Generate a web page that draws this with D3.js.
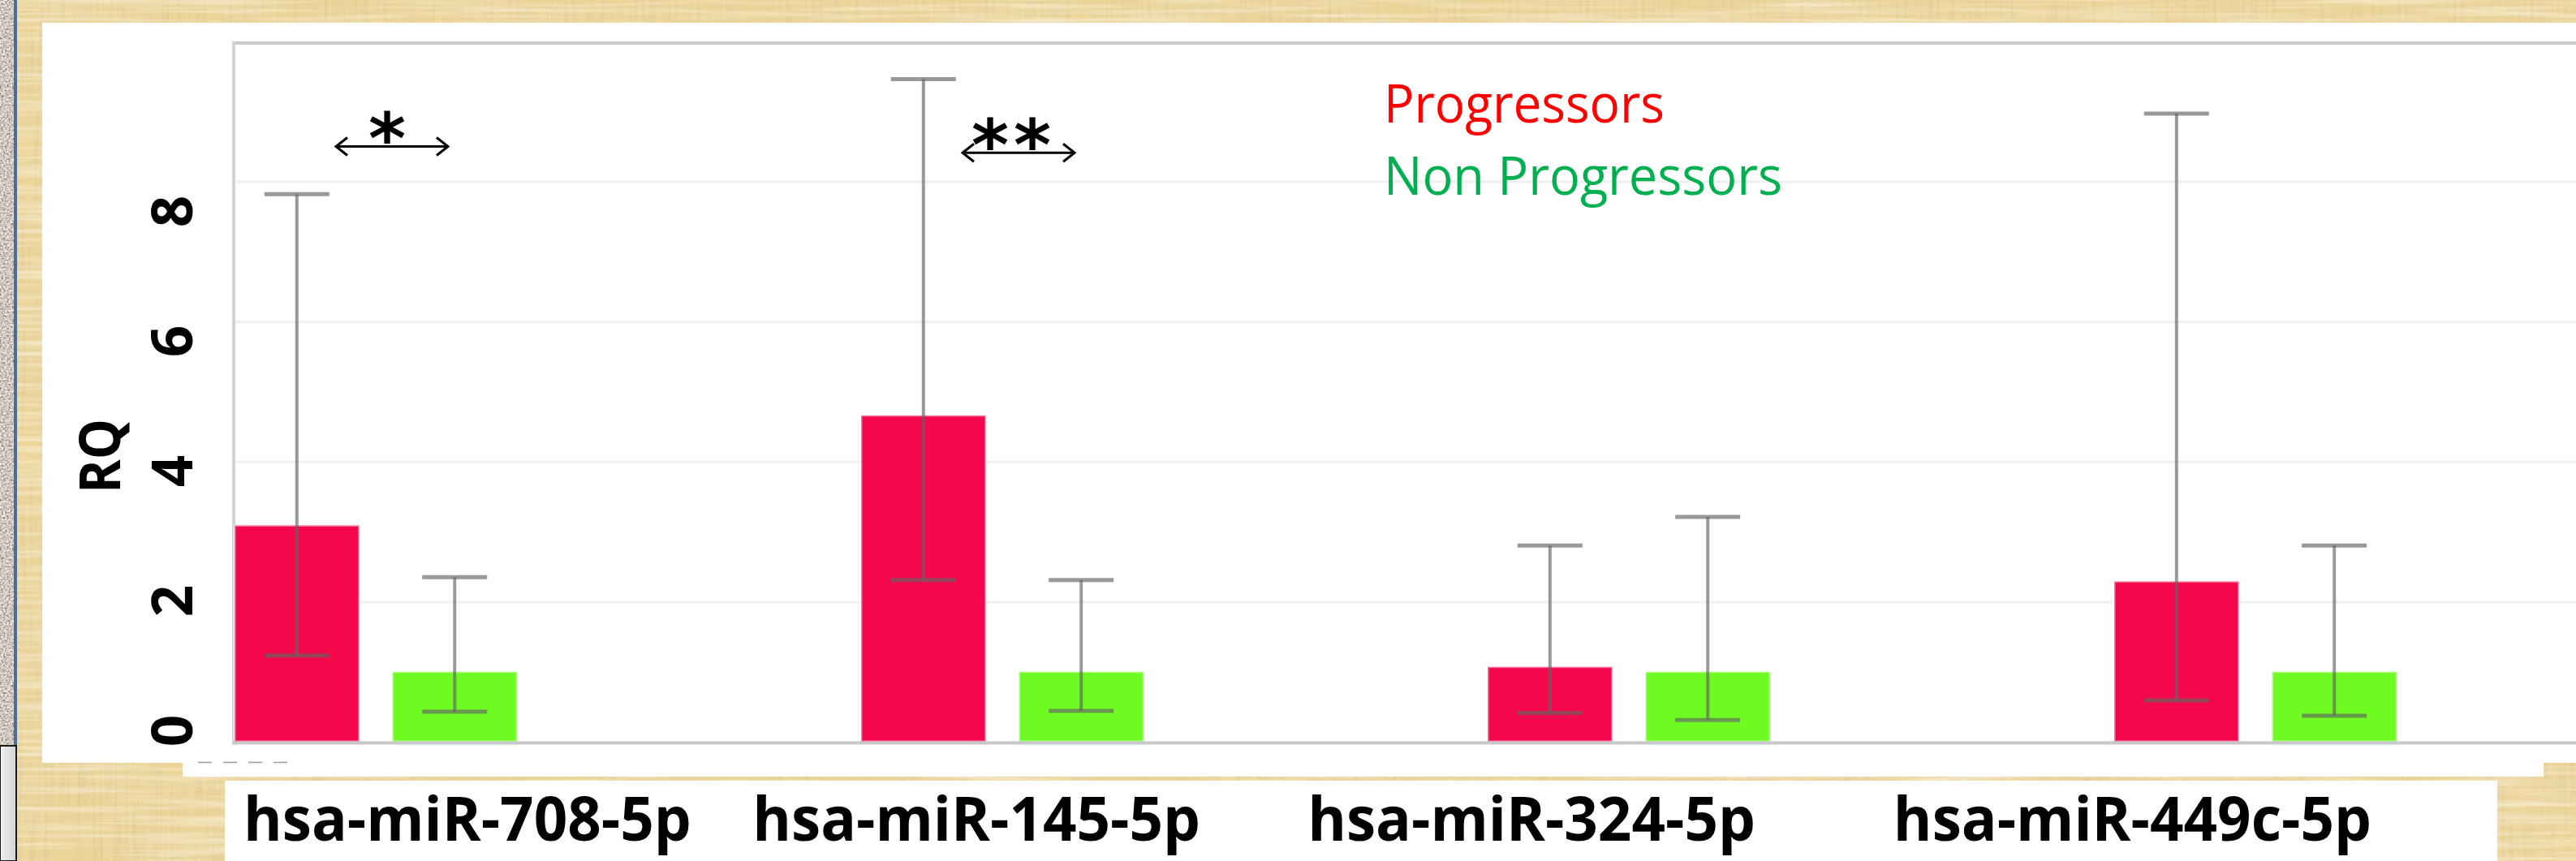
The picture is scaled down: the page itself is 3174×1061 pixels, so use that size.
<!DOCTYPE html>
<html>
<head>
<meta charset="utf-8">
<script src="https://cdn.jsdelivr.net/npm/d3@7"></script>
<style>
  html, body { margin: 0; padding: 0; background: #ecd69c; overflow: hidden; }
  svg { display: block; }
</style>
</head>
<body>
<svg id="chart" width="3174" height="1061">
  <defs>
    <filter id="paper" filterUnits="userSpaceOnUse" x="0" y="0" width="3174" height="1061">
      <feTurbulence type="fractalNoise" baseFrequency="0.22 0.008" numOctaves="3" seed="3" result="v"/>
      <feColorMatrix in="v" type="matrix" values="0 0 0 0 0.70  0 0 0 0 0.56  0 0 0 0 0.28  1.3 0 0 0 -0.52" result="vc"/>
      <feTurbulence type="fractalNoise" baseFrequency="0.006 0.18" numOctaves="2" seed="8" result="h"/>
      <feColorMatrix in="h" type="matrix" values="0 0 0 0 1  0 0 0 0 0.96  0 0 0 0 0.84  1.2 0 0 0 -0.5" result="hc"/>
      <feMerge><feMergeNode in="vc"/><feMergeNode in="hc"/></feMerge>
    </filter>
    <filter id="stone" filterUnits="userSpaceOnUse" x="0" y="0" width="18" height="920">
      <feTurbulence type="fractalNoise" baseFrequency="0.45" numOctaves="3" seed="2"/>
      <feColorMatrix type="matrix" values="1.3 0 0 0 -0.03  1.25 0 0 0 -0.05  1.2 0 0 0 -0.08  0 0 0 0 1"/>
    </filter>
    <linearGradient id="grayBox" x1="0" y1="0" x2="1" y2="0">
      <stop offset="0" stop-color="#f0f0f0"/>
      <stop offset="1" stop-color="#d4d4d4"/>
    </linearGradient>
  </defs>
</svg>
<script>
// values (RQ)
var categories = ["hsa-miR-708-5p", "hsa-miR-145-5p", "hsa-miR-324-5p", "hsa-miR-449c-5p"];
var seriesNames = ["Progressors", "Non Progressors"];
var progressors = [3.09, 4.66, 1.07, 2.29];
var progressorsLow = [1.23, 2.31, 0.41, 0.59];
var progressorsHigh = [7.82, 9.46, 2.80, 8.97];
var nonProgressors = [1.0, 1.0, 1.0, 1.0];
var nonProgressorsLow = [0.43, 0.44, 0.31, 0.37];
var nonProgressorsHigh = [2.35, 2.31, 3.21, 2.80];
var yTicks = [0, 2, 4, 6, 8];
var gridTicks = [2, 4, 6, 8];
var sigCategories = ["hsa-miR-708-5p", "hsa-miR-145-5p"];
var sigMarks = ["*", "**"];
var sigLevels = [8.5, 8.41];

var colors = {"Progressors": "#f5074b", "Non Progressors": "#6dfb22"};
var legendColors = {"Progressors": "#ff0000", "Non Progressors": "#00b050"};

var W = 3174, H = 1061;
var svg = d3.select("#chart");

// ---- backdrop (papyrus slide) ----
svg.append("rect").attr("width", W).attr("height", H).attr("fill", "#ecd69c");
svg.append("rect").attr("width", W).attr("height", H).attr("filter", "url(#paper)");
svg.append("rect").attr("x", 0).attr("y", 0).attr("width", 17).attr("height", 919).attr("filter", "url(#stone)");
svg.append("rect").attr("x", 17).attr("y", 0).attr("width", 4).attr("height", 919).attr("fill", "#4a6c9e");
svg.append("rect").attr("x", 0).attr("y", 919).attr("width", 20).attr("height", H - 919)
    .attr("fill", "url(#grayBox)").attr("stroke", "#1a1a1a").attr("stroke-width", 2);

// white panels
svg.append("rect").attr("x", 52).attr("y", 28).attr("width", W - 52).attr("height", 912).attr("fill", "#fff");
svg.append("rect").attr("x", 225).attr("y", 900).attr("width", 2909).attr("height", 57).attr("fill", "#fff");
svg.append("rect").attr("x", 277).attr("y", 962).attr("width", 2800).attr("height", H - 962).attr("fill", "#fff");

// ---- scales ----
var plotLeft = 289, plotTop = 51, plotBottom = 914;
var step = 772;

var x0 = d3.scaleBand()
    .domain(categories)
    .range([plotLeft, plotLeft + step * categories.length])
    .paddingInner(0).paddingOuter(0);

var x1 = d3.scaleBand()
    .domain(seriesNames)
    .range([0, 348])
    .paddingInner(0.21).paddingOuter(0);

var y = d3.scaleLinear().domain([0, 10]).range([plotBottom, plotTop]);
// the pasted tick labels sit on their own (slightly tighter) scale
var yLab = d3.scaleLinear().domain([0, 8]).range([900, 260]);

var g = svg.append("g");

// gridlines
g.append("g")
    .attr("transform", "translate(" + plotLeft + ",0)")
    .call(d3.axisRight(y).tickValues(gridTicks).tickSize(W - plotLeft).tickFormat(""))
    .call(function (a) {
        a.select(".domain").remove();
        a.selectAll("line").attr("stroke", "#efefef").attr("stroke-width", 3);
    });

// plot frame
g.append("line").attr("x1", plotLeft - 2).attr("x2", W).attr("y1", y(10) + 2).attr("y2", y(10) + 2)
    .attr("stroke", "#cacaca").attr("stroke-width", 4);
g.append("line").attr("x1", plotLeft - 1).attr("x2", plotLeft - 1).attr("y1", y(10)).attr("y2", plotBottom)
    .attr("stroke", "#d4d4d4").attr("stroke-width", 4);

// ---- bars ----
var rows = categories.map(function (c, i) {
    return [
        {cat: c, series: "Progressors", v: progressors[i], lo: progressorsLow[i], hi: progressorsHigh[i]},
        {cat: c, series: "Non Progressors", v: nonProgressors[i], lo: nonProgressorsLow[i], hi: nonProgressorsHigh[i]}
    ];
});
var flat = d3.merge(rows);

function cx(d) {
    return x0(d.cat) + x1(d.series) + x1.bandwidth() / 2;
}

g.append("g").selectAll("rect")
    .data(flat)
    .enter().append("rect")
    .attr("x", function (d) { return x0(d.cat) + x1(d.series); })
    .attr("y", function (d) { return y(d.v); })
    .attr("width", x1.bandwidth())
    .attr("height", function (d) { return y(0) - y(d.v); })
    .attr("fill", function (d) { return colors[d.series]; })
    .attr("stroke", "rgba(255,255,255,0.45)")
    .attr("stroke-width", 3);

// axis line
g.append("line").attr("x1", plotLeft - 3).attr("x2", W).attr("y1", plotBottom + 1.5).attr("y2", plotBottom + 1.5)
    .attr("stroke", "#c8c8c8").attr("stroke-width", 4);

// error bars
var capW = 80;
var eb = g.append("g").attr("stroke", "#646464").attr("stroke-opacity", 0.66);
eb.selectAll("line.stem")
    .data(flat)
    .enter().append("line")
    .attr("class", "stem")
    .attr("x1", cx).attr("x2", cx)
    .attr("y1", function (d) { return y(d.hi); })
    .attr("y2", function (d) { return y(d.lo); })
    .attr("stroke-width", 4);
eb.selectAll("line.capHi")
    .data(flat)
    .enter().append("line")
    .attr("class", "capHi")
    .attr("x1", function (d) { return cx(d) - capW / 2; })
    .attr("x2", function (d) { return cx(d) + capW / 2; })
    .attr("y1", function (d) { return y(d.hi); })
    .attr("y2", function (d) { return y(d.hi); })
    .attr("stroke-width", 5);
eb.selectAll("line.capLo")
    .data(flat)
    .enter().append("line")
    .attr("class", "capLo")
    .attr("x1", function (d) { return cx(d) - capW / 2; })
    .attr("x2", function (d) { return cx(d) + capW / 2; })
    .attr("y1", function (d) { return y(d.lo); })
    .attr("y2", function (d) { return y(d.lo); })
    .attr("stroke-width", 5);

// ---- significance arrows ----
var half = 69, head = 14;
sigCategories.forEach(function (c, i) {
    var mid = x0(c) + (x1("Progressors") + x1("Non Progressors") + x1.bandwidth()) / 2 + 20;
    var yy = y(sigLevels[i]);
    var a = g.append("g").attr("stroke", "#000").attr("stroke-width", 3).attr("fill", "none");
    a.append("line").attr("x1", mid - half).attr("x2", mid + half).attr("y1", yy).attr("y2", yy);
    a.append("path").attr("d", "M" + (mid - half + head) + "," + (yy - 11) + "L" + (mid - half) + "," + yy + "L" + (mid - half + head) + "," + (yy + 11));
    a.append("path").attr("d", "M" + (mid + half - head) + "," + (yy - 11) + "L" + (mid + half) + "," + yy + "L" + (mid + half - head) + "," + (yy + 11));
    g.append("text")
        .attr("x", mid - 6)
        .attr("y", yy + 21)
        .attr("text-anchor", "middle")
        .attr("font-family", "DejaVu Sans")
        .attr("font-weight", "bold")
        .attr("font-size", 88)
        .attr("letter-spacing", i ? 6 : 0)
        .text(sigMarks[i]);
});

// ---- legend ----
var legend = svg.append("g").attr("transform", "translate(1705,151)");
var legendWidths = [346, 491];
seriesNames.forEach(function (s, i) {
    legend.append("text")
        .attr("y", i * 89)
        .attr("font-family", "Open Sans")
        .attr("font-size", 66)
        .attr("fill", legendColors[s])
        .attr("textLength", legendWidths[i])
        .attr("lengthAdjust", "spacingAndGlyphs")
        .text(s);
});

// ---- y tick labels (rotated) ----
var yAxis = svg.append("g")
    .attr("transform", "translate(237,0)")
    .call(d3.axisLeft(yLab).tickValues(yTicks).tickSize(0).tickFormat(d3.format("d")));
yAxis.select(".domain").remove();
yAxis.attr("font-family", "Open Sans").attr("font-size", 69).attr("font-weight", "bold");
yAxis.selectAll("text")
    .attr("x", 0).attr("y", 0).attr("dy", null)
    .attr("transform", "rotate(-90)")
    .attr("text-anchor", "middle")
    .attr("fill", "#000");

svg.append("text")
    .attr("transform", "translate(148,562) rotate(-90)")
    .attr("text-anchor", "middle")
    .attr("font-family", "Open Sans")
    .attr("font-weight", "bold")
    .attr("font-size", 70)
    .attr("textLength", 92)
    .attr("lengthAdjust", "spacingAndGlyphs")
    .text("RQ");

// stray legend dashes under the plot
svg.append("g").selectAll("line")
    .data(d3.range(4))
    .enter().append("line")
    .attr("x1", function (i) { return 244 + i * 31; })
    .attr("x2", function (i) { return 261 + i * 31; })
    .attr("y1", 939.5).attr("y2", 939.5)
    .attr("stroke", "#9a9a9a").attr("stroke-width", 1.5);

// ---- category text box ----
var spaces = ["", "    ", "       ", "         "];
var labelText = categories.map(function (c, i) { return spaces[i] + c; }).join("");
svg.append("text")
    .attr("x", 300)
    .attr("y", 1036)
    .attr("xml:space", "preserve")
    .style("white-space", "pre")
    .attr("font-family", "Open Sans")
    .attr("font-weight", "bold")
    .attr("font-size", 75)
    .attr("textLength", 2622)
    .attr("lengthAdjust", "spacingAndGlyphs")
    .text(labelText);
</script>
</body>
</html>
